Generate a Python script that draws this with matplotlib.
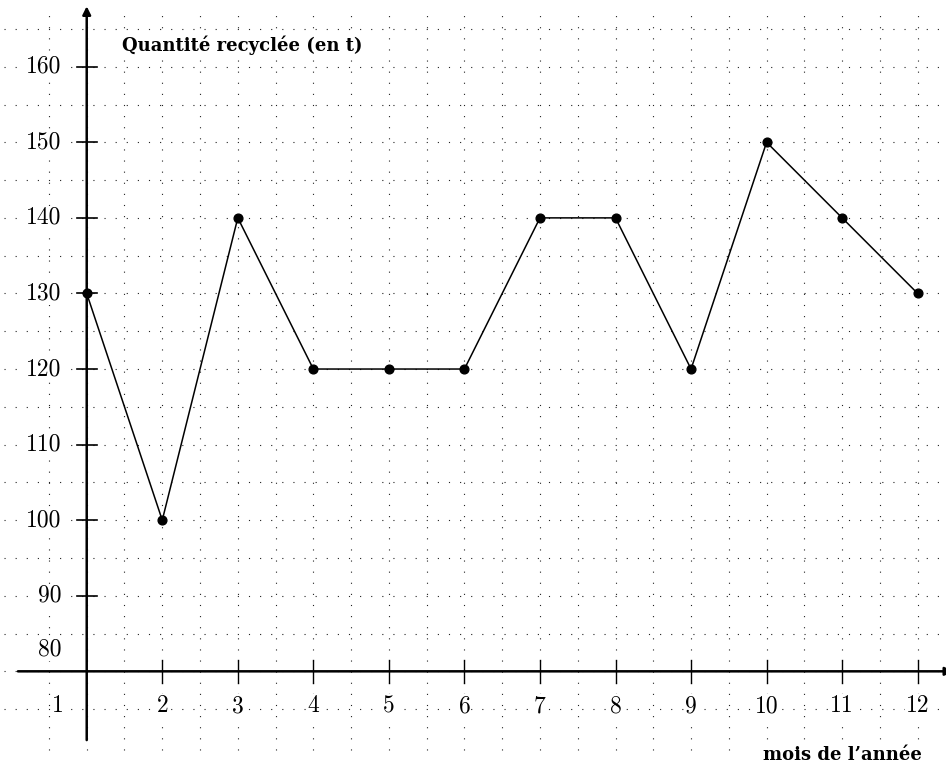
import matplotlib
matplotlib.use("Agg")
import matplotlib.pyplot as plt
import numpy as np

months = [1, 2, 3, 4, 5, 6, 7, 8, 9, 10, 11, 12]
quantities = [130, 100, 140, 120, 120, 120, 140, 140, 120, 150, 140, 130]
y_ticks = [90, 100, 110, 120, 130, 140, 150, 160]
x_ticks = [2, 3, 4, 5, 6, 7, 8, 9, 10, 11, 12]
y_title = "Quantité recyclée (en t)"
x_title = "mois de l\u2019année"

fig = plt.figure(figsize=(9.46, 7.67), dpi=100)
ax = fig.add_axes([0, 0, 1, 1])
ax.set_xlim(-0.148, 12.375)
ax.set_ylim(67.34, 168.83)
ax.axis("off")

num_font = dict(family="cmr10", size=17)
lab_font = dict(family="DejaVu Serif", weight="bold", size=13)

# dotted grid
dot = (0, (1, 9))
for gx in np.arange(0.5, 12.51, 0.5):
    ax.plot([gx, gx], [69.6, 167.0], color="#222222", lw=0.8, ls=dot, zorder=1)
for gy in np.arange(75, 165.1, 5):
    ax.plot([-0.1, 12.4], [gy, gy], color="#222222", lw=0.8, ls=dot, zorder=1)

# axes with arrows
ax.annotate("", xy=(1, 168.0), xytext=(1, 70.9), annotation_clip=False,
            arrowprops=dict(arrowstyle="-|>", lw=1.8, color="black",
                            mutation_scale=12, shrinkA=0, shrinkB=0), zorder=3)
ax.annotate("", xy=(12.47, 80), xytext=(0.09, 80), annotation_clip=False,
            arrowprops=dict(arrowstyle="-|>", lw=1.8, color="black",
                            mutation_scale=12, shrinkA=0, shrinkB=0), zorder=3)

bb = dict(facecolor="white", edgecolor="none", pad=0.5)
# ticks and labels
for yt in y_ticks:
    ax.plot([0.87, 1.13], [yt, yt], color="black", lw=1.2, zorder=3)
    ax.text(0.66, yt, str(yt), ha="right", va="center", **num_font, zorder=4, bbox=bb)
ax.text(0.66, 82.95, "80", ha="right", va="center", **num_font, zorder=4, bbox=bb)
for xt in x_ticks:
    ax.plot([xt, xt], [78.5, 81.5], color="black", lw=1.0, zorder=3)
    ax.text(xt, 75.4, str(xt), ha="center", va="center", **num_font, zorder=4, bbox=bb)
ax.text(0.62, 75.4, "1", ha="center", va="center", **num_font, zorder=4, bbox=bb)

ax.text(1.467, 162.9, y_title, ha="left", va="center", **lab_font, zorder=4, bbox=bb)
ax.text(9.953, 68.9, x_title, ha="left", va="center", **lab_font, zorder=4, bbox=bb)

# data
ax.plot(months, quantities, color="black", lw=1.1, marker="o", markersize=6.3,
        zorder=5, clip_on=False)

fig.savefig("out.png", dpi=100)
